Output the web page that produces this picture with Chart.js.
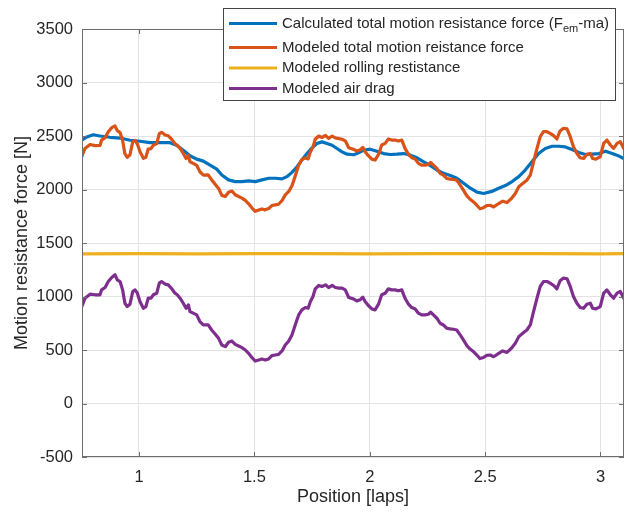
<!DOCTYPE html>
<html>
<head>
<meta charset="utf-8">
<script src="https://cdn.jsdelivr.net/npm/chart.js@4/dist/chart.umd.min.js"></script>
<style>
  html, body { margin: 0; padding: 0; background: #fff; }
  #wrap { width: 625px; height: 513px; }
</style>
</head>
<body>
<div id="wrap"><canvas id="chart" width="625" height="513"></canvas></div>
<script>
// position along the track [laps]
const dragPos = [
  0.752,0.766,0.788,0.809,0.831,0.838,0.853,0.867,0.882,0.896,
  0.906,0.918,0.929,0.939,0.949,0.961,0.973,0.983,0.993,1.004,
  1.019,1.030,1.040,1.052,1.062,1.077,1.088,1.098,1.113,1.127,
  1.142,1.156,1.166,1.178,1.192,1.204,1.214,1.221,1.235,1.250,
  1.264,1.279,1.300,1.315,1.330,1.345,1.359,1.374,1.388,1.403,
  1.417,1.432,1.446,1.461,1.475,1.490,1.504,1.519,1.533,1.547,
  1.562,1.576,1.591,1.605,1.620,1.634,1.649,1.663,1.677,1.692,
  1.706,1.721,1.733,1.743,1.754,1.764,1.779,1.793,1.808,1.822,
  1.837,1.851,1.866,1.880,1.894,1.909,1.929,1.944,1.958,1.970,
  1.980,1.994,2.009,2.023,2.038,2.052,2.067,2.081,2.095,2.110,
  2.124,2.139,2.153,2.168,2.182,2.197,2.211,2.225,2.240,2.254,
  2.264,2.276,2.291,2.305,2.319,2.334,2.348,2.363,2.377,2.392,
  2.406,2.421,2.435,2.450,2.464,2.478,2.493,2.507,2.522,2.537,
  2.559,2.576,2.595,2.614,2.631,2.646,2.663,2.681,2.696,2.710,
  2.725,2.739,2.753,2.768,2.782,2.797,2.811,2.825,2.840,2.855,
  2.869,2.883,2.898,2.912,2.927,2.941,2.956,2.966,2.980,2.999,
  3.014,3.028,3.043,3.057,3.072,3.086,3.101
];

// modeled air drag [N]
const airDrag = [
  906,984,1022,1016,1016,1062,1084,1140,1178,1203,
  1156,1140,1062,937,906,928,1047,1062,1031,953,
  890,906,984,984,1016,1031,1125,1140,1116,1109,
  1072,1031,1016,984,937,890,922,859,844,828,
  766,734,734,687,650,609,547,531,572,584,
  553,537,522,500,469,428,397,406,416,406,
  416,447,453,459,491,547,584,641,734,828,
  875,897,890,953,1000,1072,1103,1094,1109,1084,
  1103,1084,1078,1078,1062,991,978,959,969,994,
  953,916,884,875,928,1016,1031,1072,1062,1062,
  1053,1062,984,928,897,884,844,828,828,834,
  853,828,797,750,734,703,697,694,687,641,
  594,541,509,484,453,420,430,450,453,437,
  469,491,478,516,562,625,656,687,734,859,
  984,1094,1140,1140,1125,1103,1072,1147,1172,1166,
  1094,1000,937,897,890,928,937,890,884,906,
  1031,1062,1016,984,1031,1047,984
];

// modeled total motion resistance force [N]
const modeledTotal = [
  2306,2384,2420,2410,2412,2462,2484,2540,2578,2594,
  2550,2532,2458,2334,2300,2325,2447,2458,2425,2355,
  2292,2302,2378,2382,2414,2429,2522,2535,2510,2502,
  2468,2427,2412,2384,2337,2290,2318,2259,2244,2226,
  2166,2134,2136,2090,2050,2010,1945,1935,1975,1986,
  1951,1935,1920,1898,1866,1827,1796,1808,1818,1810,
  1822,1850,1856,1862,1897,1950,1982,2035,2125,2228,
  2280,2296,2286,2352,2398,2470,2500,2486,2505,2478,
  2500,2482,2476,2470,2455,2390,2377,2359,2369,2394,
  2353,2316,2284,2275,2328,2416,2431,2472,2462,2462,
  2453,2462,2384,2328,2297,2284,2244,2228,2228,2234,
  2253,2228,2197,2150,2134,2103,2097,2094,2087,2041,
  1994,1941,1909,1884,1853,1820,1830,1850,1853,1837,
  1869,1891,1878,1916,1962,2025,2056,2087,2134,2259,
  2384,2494,2540,2540,2525,2503,2472,2547,2572,2566,
  2494,2400,2337,2297,2290,2328,2337,2290,2284,2306,
  2431,2462,2416,2384,2431,2447,2384
];

// calculated total motion resistance force (Fem - ma) [N]
const calcPos = [
  0.752,0.774,0.802,0.831,0.874,0.918,0.961,1.004,1.047,1.091,
  1.134,1.163,1.192,1.221,1.250,1.279,1.308,1.337,1.359,1.388,
  1.417,1.446,1.475,1.504,1.533,1.562,1.591,1.620,1.641,1.663,
  1.685,1.706,1.728,1.750,1.771,1.793,1.815,1.837,1.858,1.880,
  1.902,1.931,1.944,1.973,2.002,2.031,2.060,2.089,2.118,2.147,
  2.176,2.205,2.234,2.263,2.291,2.320,2.349,2.378,2.407,2.436,
  2.465,2.494,2.529,2.559,2.588,2.617,2.646,2.674,2.703,2.732,
  2.761,2.790,2.819,2.848,2.877,2.906,2.935,2.964,2.993,3.022,
  3.051,3.080,3.106
];
const calcTotal = [
  2460,2491,2512,2500,2488,2481,2460,2451,2438,2438,
  2438,2414,2367,2315,2284,2265,2228,2190,2136,2090,
  2074,2074,2080,2074,2090,2105,2105,2099,2120,2160,
  2213,2275,2336,2389,2429,2445,2429,2414,2383,2352,
  2330,2325,2336,2367,2377,2358,2336,2327,2330,2336,
  2321,2296,2259,2222,2182,2151,2130,2105,2059,2012,
  1975,1963,1982,2012,2037,2074,2120,2182,2259,2336,
  2383,2404,2404,2398,2373,2346,2327,2330,2336,2358,
  2336,2312,2284
];

// modeled rolling restistance [N]
const rollPos = [0.75, 1.0, 1.25, 1.5, 1.75, 2.0, 2.25, 2.5, 2.75, 3.0, 3.11];
const rollRes = [1398, 1401, 1399, 1401, 1400, 1399, 1401, 1400, 1401, 1399, 1400];

const xTicks = [1, 1.5, 2, 2.5, 3];
const yTicks = [-500, 0, 500, 1000, 1500, 2000, 2500, 3000, 3500];

const legendLabels = [
  ['Calculated total motion resistance force (F', 'em', '-ma)'],
  ['Modeled total motion reistance force'],
  ['Modeled rolling restistance'],
  ['Modeled air drag']
];
const colors = ['#0072BD', '#D95319', '#EDB120', '#7E2F8E'];

const FONT = "'Liberation Sans', Arial, Helvetica, sans-serif";
const TXT = '#262626';

function pts(xs, ys) {
  return xs.map((x, i) => ({ x: x, y: ys[i] }));
}

const boxPlugin = {
  id: 'boxPlugin',
  afterDraw(chart) {
    const ctx = chart.ctx;
    const a = chart.chartArea;
    const xs = chart.scales.x, ys = chart.scales.y;
    ctx.save();
    ctx.strokeStyle = '#6e6e6e';
    ctx.lineWidth = 1;
    ctx.strokeRect(a.left + 0.5, a.top + 0.5, a.right - a.left - 1, a.bottom - a.top - 1);
    ctx.beginPath();
    const tl = 5;
    xTicks.forEach(v => {
      const p = Math.round(xs.getPixelForValue(v)) + 0.5;
      ctx.moveTo(p, a.bottom); ctx.lineTo(p, a.bottom - tl);
      ctx.moveTo(p, a.top); ctx.lineTo(p, a.top + tl);
    });
    yTicks.forEach(v => {
      const p = Math.round(ys.getPixelForValue(v)) + 0.5;
      ctx.moveTo(a.left, p); ctx.lineTo(a.left + tl, p);
      ctx.moveTo(a.right, p); ctx.lineTo(a.right - tl, p);
    });
    ctx.stroke();

    // legend box
    const bx = 223, by = 8, bw = 392, bh = 92;
    ctx.fillStyle = '#fff';
    ctx.fillRect(bx, by, bw, bh);
    ctx.strokeStyle = '#444';
    ctx.strokeRect(bx + 0.5, by + 0.5, bw, bh);
    const rows = [23.5, 47.5, 68, 88.5];
    ctx.textBaseline = 'middle';
    ctx.textAlign = 'left';
    legendLabels.forEach((parts, i) => {
      const y = rows[i];
      ctx.strokeStyle = colors[i];
      ctx.lineWidth = 3;
      ctx.beginPath();
      ctx.moveTo(229, y); ctx.lineTo(277, y);
      ctx.stroke();
      ctx.fillStyle = TXT;
      let x = 282;
      ctx.font = '15px ' + FONT;
      ctx.fillText(parts[0], x, y);
      if (parts.length > 1) {
        x += ctx.measureText(parts[0]).width;
        ctx.font = '11px ' + FONT;
        ctx.fillText(parts[1], x, y + 5);
        x += ctx.measureText(parts[1]).width;
        ctx.font = '15px ' + FONT;
        ctx.fillText(parts[2], x, y);
      }
    });
    ctx.restore();
  }
};

const ctx = document.getElementById('chart').getContext('2d');
new Chart(ctx, {
  type: 'line',
  data: {
    datasets: [
      { label: 'calc', data: pts(calcPos, calcTotal), borderColor: colors[0], order: 4 },
      { label: 'total', data: pts(dragPos, modeledTotal), borderColor: colors[1], order: 3 },
      { label: 'roll', data: pts(rollPos, rollRes), borderColor: colors[2], order: 2 },
      { label: 'air', data: pts(dragPos, airDrag), borderColor: colors[3], order: 1 }
    ]
  },
  options: {
    responsive: false,
    animation: false,
    elements: {
      line: { borderWidth: 3.2, tension: 0, borderCapStyle: 'round', borderJoinStyle: 'round' },
      point: { radius: 0, hoverRadius: 0 }
    },
    layout: { padding: { top: 29, right: 1, left: 0, bottom: 0 } },
    plugins: { legend: { display: false }, tooltip: { enabled: false } },
    scales: {
      x: {
        type: 'linear',
        min: 0.753,
        max: 3.102,
        afterBuildTicks: s => { s.ticks = xTicks.map(v => ({ value: v })); },
        afterFit: s => { s.height = 56; },
        grid: { color: '#e3e3e3', drawTicks: false },
        border: { display: false },
        ticks: {
          color: TXT, padding: 11, maxRotation: 0,
          font: { family: FONT, size: 16.5 },
          callback: v => String(v)
        },
        title: {
          display: true, text: 'Position [laps]', color: TXT,
          font: { family: FONT, size: 18 },
          padding: { top: 0, bottom: 5 }
        }
      },
      y: {
        type: 'linear',
        min: -500,
        max: 3500,
        afterBuildTicks: s => { s.ticks = yTicks.map(v => ({ value: v })); },
        afterFit: s => { s.width = 82; },
        grid: { color: '#e3e3e3', drawTicks: false },
        border: { display: false },
        ticks: {
          color: TXT, padding: 9,
          font: { family: FONT, size: 16.5 },
          callback: v => String(v)
        },
        title: {
          display: true, text: 'Motion resistance force [N]', color: TXT,
          font: { family: FONT, size: 18 },
          padding: { top: 11, bottom: 0 }
        }
      }
    }
  },
  plugins: [boxPlugin]
});
</script>
</body>
</html>
